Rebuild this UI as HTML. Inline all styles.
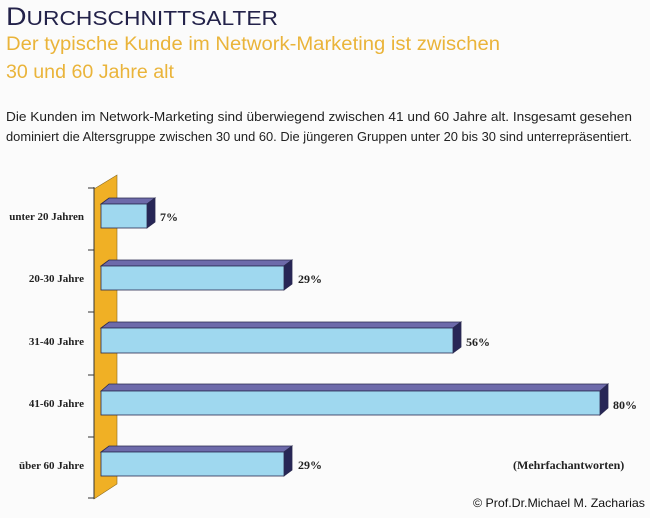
<!DOCTYPE html>
<html><head><style>
body{margin:0;width:650px;height:513px;background:#fbfbfb;overflow:hidden;font-family:"Liberation Sans","DejaVu Sans",sans-serif}
</style></head><body>
<svg width="650" height="513" xmlns="http://www.w3.org/2000/svg">
<text x="6" y="25" font-family="Liberation Sans, sans-serif" fill="#23224a" textLength="272" lengthAdjust="spacingAndGlyphs"><tspan font-size="25">D</tspan><tspan font-size="20">URCHSCHNITTSALTER</tspan></text>
<text x="6" y="50" font-size="19" fill="#eab43a" font-family="Liberation Sans, sans-serif" textLength="494" lengthAdjust="spacingAndGlyphs">Der typische Kunde im Network-Marketing ist zwischen</text>
<text x="6" y="78" font-size="19" fill="#eab43a" font-family="Liberation Sans, sans-serif" textLength="168" lengthAdjust="spacingAndGlyphs">30 und 60 Jahre alt</text>
<text x="6" y="121" font-size="12.8" fill="#222" textLength="626" lengthAdjust="spacingAndGlyphs">Die Kunden im Network-Marketing sind überwiegend zwischen 41 und 60 Jahre alt. Insgesamt gesehen</text>
<text x="6" y="141" font-size="12.8" fill="#222" textLength="626" lengthAdjust="spacingAndGlyphs">dominiert die Altersgruppe zwischen 30 und 60. Die jüngeren Gruppen unter 20 bis 30 sind unterrepräsentiert.</text>
<polygon points="94,189 117,175 117,484 94,499" fill="#f0b025" stroke="#8a6a20" stroke-width="0.6"/>
<line x1="94" y1="187" x2="94" y2="499" stroke="#333" stroke-width="1"/>
<g stroke="#333" stroke-width="1">
<line x1="88" y1="188" x2="94" y2="188"/><line x1="88" y1="250" x2="94" y2="250"/><line x1="88" y1="312" x2="94" y2="312"/><line x1="88" y1="375" x2="94" y2="375"/><line x1="88" y1="437" x2="94" y2="437"/><line x1="88" y1="498" x2="94" y2="498"/>
</g>
<g font-family="Liberation Serif, serif" font-weight="bold" font-size="11" fill="#222" text-anchor="end">
<text x="84" y="220">unter 20 Jahren</text>
<text x="84" y="282">20-30 Jahre</text>
<text x="84" y="345">31-40 Jahre</text>
<text x="84" y="407">41-60 Jahre</text>
<text x="84" y="469">über 60 Jahre</text>
</g>
<g stroke="#2a2a50" stroke-width="0.8">
<polygon points="101,204 109,198 155,198 147,204" fill="#6d6aaa"/>
<polygon points="147,204 155,198 155,222 147,228" fill="#272656"/>
<rect x="101" y="204" width="46" height="24" fill="#9fd8ef"/>
<polygon points="101,266 109,260 292,260 284,266" fill="#6d6aaa"/>
<polygon points="284,266 292,260 292,284 284,290" fill="#272656"/>
<rect x="101" y="266" width="183" height="24" fill="#9fd8ef"/>
<polygon points="101,328 109,322 461,322 453,328" fill="#6d6aaa"/>
<polygon points="453,328 461,322 461,347 453,353" fill="#272656"/>
<rect x="101" y="328" width="352" height="25" fill="#9fd8ef"/>
<polygon points="101,391 109,384 608,384 600,391" fill="#6d6aaa"/>
<polygon points="600,391 608,384 608,408 600,415" fill="#272656"/>
<rect x="101" y="391" width="499" height="24" fill="#9fd8ef"/>
<polygon points="101,452 109,446 292,446 284,452" fill="#6d6aaa"/>
<polygon points="284,452 292,446 292,470 284,476" fill="#272656"/>
<rect x="101" y="452" width="183" height="24" fill="#9fd8ef"/>
</g>
<g font-family="Liberation Serif, serif" font-weight="bold" font-size="12" fill="#222">
<text x="160" y="221">7%</text>
<text x="298" y="283">29%</text>
<text x="466" y="346">56%</text>
<text x="613" y="409">80%</text>
<text x="298" y="469">29%</text>
<text x="513" y="469">(Mehrfachantworten)</text>
</g>
<text x="473" y="507" font-size="12" fill="#111" textLength="172" lengthAdjust="spacingAndGlyphs">© Prof.Dr.Michael M. Zacharias</text>
</svg>
</body></html>
